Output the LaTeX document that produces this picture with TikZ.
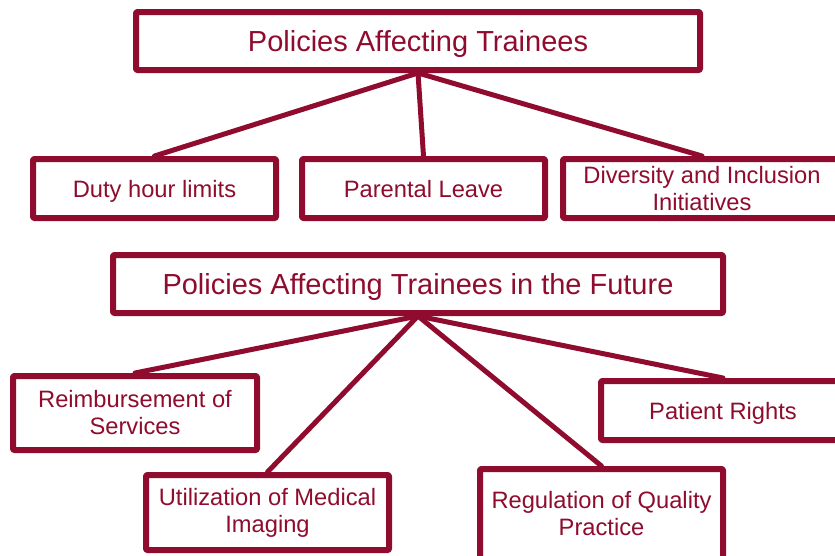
\documentclass[tikz,border=0pt]{standalone}
\usepackage{fontspec}
\setmainfont{Liberation Sans}
\definecolor{maroon}{RGB}{143,12,46}

\begin{document}
\begin{tikzpicture}[line cap=round,line join=round,x=1pt,y=-1pt,
  box/.style={draw=maroon,fill=white,line width=6pt,rounded corners=1pt,inner sep=0pt,
    text=maroon,align=center,font=\fontsize{23.7}{27}\selectfont},
  oneline/.style={box,text depth=0pt},
  head/.style={oneline,font=\fontsize{29}{33}\selectfont},
  link/.style={draw=maroon,line width=5pt}]
\useasboundingbox (0,0) rectangle (835,555);
\clip (0,0) rectangle (835,555);
% current policies
\node [head,minimum width=564,minimum height=58] (now) at (418,41) {Policies Affecting Trainees};
\node [oneline,minimum width=243,minimum height=59] (duty) at (154.5,188.5) {Duty hour limits};
\node [oneline,minimum width=243,minimum height=59] (leave) at (423.5,188.5) {Parental Leave};
\node [box,minimum width=278,minimum height=59] (divers) at (702,188.5) {Diversity and Inclusion\\Initiatives};
\draw [link] (now.south) -- (duty.north);
\draw [link] (now.south) -- (leave.north);
\draw [link] (now.south) -- (divers.north);
% future policies
\node [head,minimum width=610,minimum height=58] (future) at (418,284) {Policies Affecting Trainees in the Future};
\node [box,minimum width=244,minimum height=74] (reimb) at (135,413) {Reimbursement of\\Services};
\node [box,minimum width=243,minimum height=75] (imaging) at (267.5,512.5) {Utilization of Medical\\Imaging};
\node [box,minimum width=243,minimum height=90] (quality) at (601.5,514) {Regulation of Quality\\Practice};
\node [oneline,minimum width=244,minimum height=59] (rights) at (723,410.5) {Patient Rights};
\draw [link] (future.south) -- (reimb.north);
\draw [link] (future.south) -- (imaging.north);
\draw [link] (future.south) -- (quality.north);
\draw [link] (future.south) -- (rights.north);
\end{tikzpicture}
\end{document}
